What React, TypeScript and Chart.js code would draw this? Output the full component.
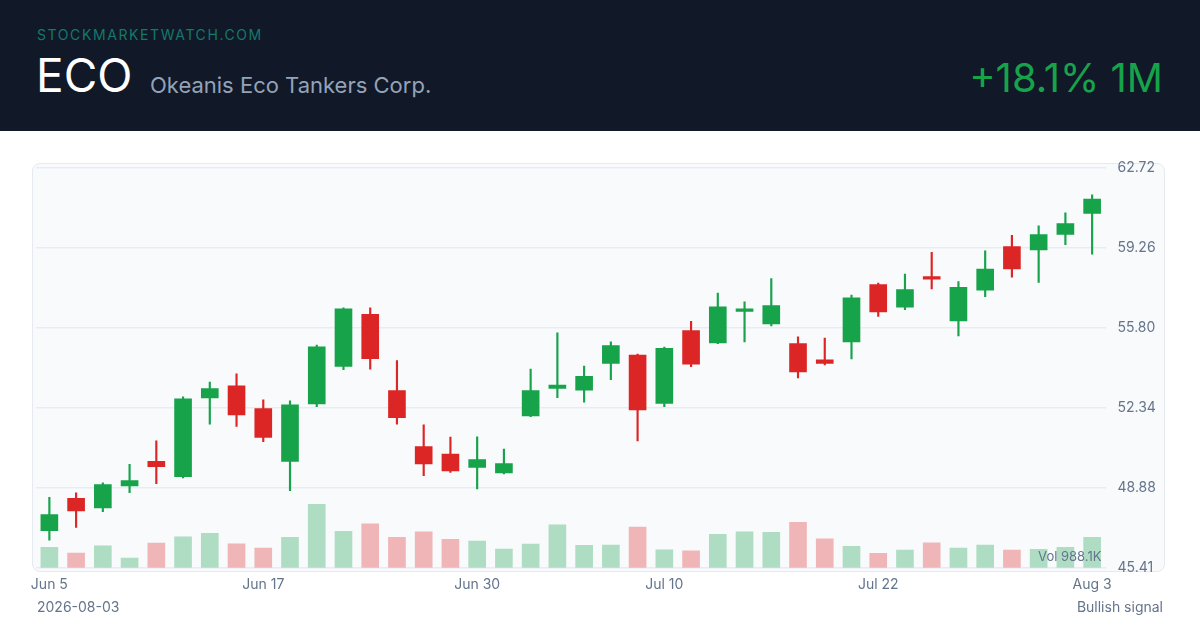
import React, { useEffect, useRef } from 'react';
import { Chart, registerables } from 'chart.js';

Chart.register(...registerables);

const DATES = [
  'Jun 5', 'Jun 8', 'Jun 9', 'Jun 10', 'Jun 11', 'Jun 12', 'Jun 15', 'Jun 16', 'Jun 17', 'Jun 18',
  'Jun 22', 'Jun 23', 'Jun 24', 'Jun 25', 'Jun 26', 'Jun 29', 'Jun 30', 'Jul 1', 'Jul 2', 'Jul 6',
  'Jul 7', 'Jul 8', 'Jul 9', 'Jul 10', 'Jul 13', 'Jul 14', 'Jul 15', 'Jul 16', 'Jul 17', 'Jul 20',
  'Jul 21', 'Jul 22', 'Jul 23', 'Jul 24', 'Jul 27', 'Jul 28', 'Jul 29', 'Jul 30', 'Jul 31', 'Aug 3',
];

const X_TICKS = ['Jun 5', 'Jun 17', 'Jun 30', 'Jul 10', 'Jul 22', 'Aug 3'];

const OPEN = [
  47.0, 48.43, 47.99, 48.94, 50.03, 49.34, 52.74, 53.29, 52.31, 50.0,
  52.48, 54.11, 56.39, 53.09, 50.67, 50.34, 49.74, 49.5, 51.97, 53.15,
  53.08, 54.24, 54.63, 52.51, 55.68, 55.12, 56.49, 55.94, 55.12, 54.42,
  55.17, 57.67, 56.67, 58.02, 56.07, 57.4, 59.32, 59.15, 59.82, 60.72,
];
const HIGH = [
  48.46, 48.65, 49.08, 49.89, 50.9, 52.8, 53.44, 53.8, 52.67, 52.63,
  55.04, 56.65, 56.65, 54.37, 51.59, 51.06, 51.07, 50.55, 54.0, 55.57,
  54.13, 55.18, 54.65, 54.96, 56.07, 57.29, 56.91, 57.92, 55.4, 55.35,
  57.21, 57.73, 58.11, 59.06, 57.79, 59.12, 59.79, 60.2, 60.76, 61.54,
];
const LOW = [
  46.61, 47.16, 47.84, 48.66, 49.05, 49.3, 51.62, 51.52, 50.87, 48.75,
  52.38, 53.98, 54.0, 51.62, 49.4, 49.53, 48.82, 49.47, 51.95, 52.77,
  52.57, 53.55, 50.9, 52.38, 54.11, 55.1, 55.18, 55.87, 53.62, 54.19,
  54.44, 56.28, 56.58, 57.47, 55.44, 57.14, 57.98, 57.75, 59.39, 58.97,
];
const CLOSE = [
  47.73, 47.86, 49.02, 49.2, 49.77, 52.73, 53.18, 52.01, 51.03, 52.47,
  54.98, 56.62, 54.44, 51.89, 49.89, 49.59, 50.1, 49.93, 53.09, 53.33,
  53.71, 55.04, 52.22, 54.92, 54.2, 56.71, 56.62, 56.77, 53.87, 54.24,
  57.1, 56.46, 57.46, 57.88, 57.55, 58.34, 58.32, 59.84, 60.31, 61.37,
];
// volume in thousands
const VOLUME = [
  667, 483, 718, 322, 805, 1008, 1117, 782, 644, 988,
  2051, 1182, 1426, 988, 1169, 924, 869, 612, 773, 1394,
  731, 741, 1320, 589, 557, 1085, 1169, 1150, 1472, 943,
  699, 473, 580, 815, 644, 741, 580, 602, 667, 988.1,
];

const PRICE_TICKS = [45.414, 48.876, 52.338, 55.8, 59.262, 62.724];
const VOL_MAX = 12900;

const GREEN = '#16a34a';
const RED = '#dc2626';
const GREEN_VOL = 'rgba(22,163,74,0.32)';
const RED_VOL = 'rgba(220,38,38,0.32)';
const AXIS_TEXT = '#64748b';
const FONT = 'Inter, "Noto Sans", sans-serif';

export default function App() {
  const ref = useRef<HTMLCanvasElement>(null);

  useEffect(() => {
    const up = CLOSE.map((c, i) => c >= OPEN[i]);
    const volLabel = {
      id: 'volLabel',
      afterDatasetsDraw(chart: any) {
        const { ctx, chartArea } = chart;
        ctx.save();
        ctx.font = `13px ${FONT}`;
        ctx.fillStyle = AXIS_TEXT;
        ctx.textAlign = 'right';
        ctx.textBaseline = 'middle';
        ctx.fillText(`Vol ${VOLUME[VOLUME.length - 1].toFixed(1)}K`, chartArea.right - 4, chartArea.bottom - 11);
        ctx.restore();
      },
    };
    const chart = new Chart(ref.current!, {
      type: 'bar',
      data: {
        labels: DATES,
        datasets: [
          {
            label: 'body',
            data: OPEN.map((o, i) => [o, CLOSE[i]]) as any,
            backgroundColor: up.map((u) => (u ? GREEN : RED)),
            yAxisID: 'y',
            order: 1,
            grouped: false,
            barPercentage: 0.66,
            categoryPercentage: 1,
            borderSkipped: false,
          } as any,
          {
            label: 'wick',
            data: LOW.map((l, i) => [l, HIGH[i]]) as any,
            backgroundColor: up.map((u) => (u ? GREEN : RED)),
            yAxisID: 'y',
            order: 2,
            grouped: false,
            barThickness: 1.5,
            borderSkipped: false,
          } as any,
          {
            label: 'vol',
            data: VOLUME,
            backgroundColor: up.map((u) => (u ? GREEN_VOL : RED_VOL)),
            yAxisID: 'yVol',
            order: 3,
            grouped: false,
            barPercentage: 0.66,
            categoryPercentage: 1,
          } as any,
        ],
      },
      options: {
        animation: false,
        responsive: false,
        maintainAspectRatio: false,
        layout: { padding: { left: 36, right: 34.5, top: 36.5, bottom: 32.3 } },
        plugins: { legend: { display: false }, tooltip: { enabled: false } },
        scales: {
          x: {
            type: 'category',
            offset: true,
            grid: { display: false, drawTicks: false },
            border: { display: false },
            ticks: {
              autoSkip: false,
              maxRotation: 0,
              padding: 9,
              color: AXIS_TEXT,
              font: { family: FONT, size: 14 },
              callback: (_v: any, i: number) => (X_TICKS.includes(DATES[i]) ? DATES[i] : ''),
            },
            afterFit: (s: any) => {
              s.height = 30;
            },
          },
          y: {
            position: 'right',
            min: PRICE_TICKS[0],
            max: PRICE_TICKS[PRICE_TICKS.length - 1],
            afterBuildTicks: (s: any) => {
              s.ticks = PRICE_TICKS.map((v) => ({ value: v }));
            },
            grid: { color: '#e8ecf1', lineWidth: 1.5, drawTicks: false },
            border: { display: false },
            ticks: {
              padding: 12,
              color: AXIS_TEXT,
              font: { family: FONT, size: 14 },
              callback: (v: any) => Number(v).toFixed(2),
            },
            afterFit: (s: any) => {
              s.width = 60;
            },
          },
          yVol: {
            display: false,
            min: 0,
            max: VOL_MAX,
          },
        },
      } as any,
      plugins: [volLabel],
    });
    return () => chart.destroy();
  }, []);

  return (
    <div style={{ position: 'fixed', left: 0, top: 0, width: 1200, height: 630, background: '#ffffff', fontFamily: FONT, overflow: 'hidden' }}>
      <div style={{ position: 'absolute', left: 0, top: 0, width: 1200, height: 131, background: '#111827' }} />
      <div style={{ position: 'absolute', left: 37, top: 27.5, fontSize: 14, lineHeight: '14px', letterSpacing: 1.6, color: '#137a6b', whiteSpace: 'nowrap' }}>
        STOCKMARKETWATCH.COM
      </div>
      <div style={{ position: 'absolute', left: 36, top: 52, fontSize: 46, lineHeight: '46px', color: '#ffffff' }}>ECO</div>
      <div style={{ position: 'absolute', left: 150, top: 73.7, fontSize: 22, lineHeight: '22px', color: '#94a3b8', whiteSpace: 'nowrap' }}>
        Okeanis Eco Tankers Corp.
      </div>
      <div style={{ position: 'absolute', right: 37, top: 58.1, fontSize: 40, lineHeight: '40px', color: GREEN, whiteSpace: 'nowrap' }}>
        +18.1% 1M
      </div>
      <div
        style={{
          position: 'absolute', left: 32, top: 163, width: 1133, height: 409,
          border: '1px solid #e5e9f0', borderRadius: 8, background: '#f8fafc', boxSizing: 'border-box',
        }}
      />
      <canvas ref={ref} width={1200} height={499} style={{ position: 'absolute', left: 0, top: 131, width: 1200, height: 499 }} />
      <div style={{ position: 'absolute', left: 37, top: 600, fontSize: 14, lineHeight: '14px', color: AXIS_TEXT }}>2026-08-03</div>
      <div style={{ position: 'absolute', right: 37, top: 600, fontSize: 14, lineHeight: '14px', color: AXIS_TEXT }}>Bullish signal</div>
    </div>
  );
}
